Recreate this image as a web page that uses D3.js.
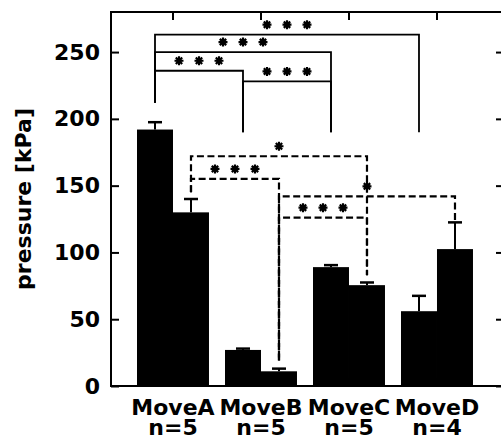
<!DOCTYPE html>
<html lang="en">
<head>
<meta charset="UTF-8">
<title>Pressure per move</title>
<script src="https://d3js.org/d3.v7.min.js"></script>
<style>
  body { margin: 0; background: #fff; }
  svg text { font-family: "DejaVu Sans", sans-serif; font-size: 22px; font-weight: bold; fill: #000; }
</style>
</head>
<body>
<div id="chart"></div>
<script>
const categories = ["MoveA", "MoveB", "MoveC", "MoveD"];
const sampleSizes = ["n=5", "n=5", "n=5", "n=4"];
const firstMeans = [192, 27, 89, 56];
const firstErrors = [5.5, 1, 1.5, 11.5];
const secondMeans = [130, 11, 75.5, 102.5];
const secondErrors = [10, 2, 2, 20];
const yTicks = [0, 50, 100, 150, 200, 250];

// significance brackets between groups (index into categories), heights in kPa
const solidBrackets = [
    { a: 0, b: 3, top: 263, left: 212, right: 190, stars: 3 },
    { a: 0, b: 2, top: 250, left: 212, right: 190, stars: 3 },
    { a: 0, b: 1, top: 236, left: 212, right: 190, stars: 3 },
    { a: 1, b: 2, top: 228, left: 190, right: 190, stars: 3 }
];
const dashedBrackets = [
    { a: 0, b: 2, top: 172, left: 145, right: 83, stars: 1 },
    { a: 0, b: 1, top: 155, left: 145, right: 19, stars: 3 },
    { a: 1, b: 3, top: 142, left: 19, right: 122, stars: 1 },
    { a: 1, b: 2, top: 126, left: 19, right: 83, stars: 3 }
];

const width = 501;
const height = 448;
const margin = { top: 12, right: -3, bottom: 62, left: 111 }; // right spine sits just off the canvas
const pw = width - margin.left - margin.right;
const ph = height - margin.top - margin.bottom;

const svg = d3.select("#chart").append("svg")
    .attr("width", width)
    .attr("height", height)
    .append("g")
    .attr("transform", "translate(" + margin.left + "," + margin.top + ")");

const x = d3.scaleBand()
    .domain(categories)
    .range([0, pw])
    .paddingInner(0.182)
    .paddingOuter(0.324)
    .align(0.456);

const sub = d3.scaleBand()
    .domain([0, 1])
    .range([0, x.bandwidth()]);

const y = d3.scaleLinear()
    .domain([0, 280])
    .range([ph, 0]);

const tickStyle = g => {
    g.select(".domain").remove();
    g.selectAll(".tick line").attr("stroke", "#000").attr("stroke-width", 2);
};

// axes, ticks pointing inward on all four sides
svg.append("g")
    .call(d3.axisLeft(y).tickValues(yTicks).tickSizeInner(-8).tickSizeOuter(0).tickPadding(11))
    .call(tickStyle);

svg.append("g")
    .attr("transform", "translate(" + pw + ",0)")
    .call(d3.axisRight(y).tickValues(yTicks).tickSizeInner(-8).tickSizeOuter(0).tickFormat(""))
    .call(tickStyle);

svg.append("g")
    .call(d3.axisTop(x).tickSizeInner(-8).tickSizeOuter(0).tickFormat(""))
    .call(tickStyle);

svg.append("g")
    .attr("transform", "translate(0," + ph + ")")
    .call(d3.axisBottom(x).tickSizeInner(-8).tickSizeOuter(0).tickPadding(13))
    .call(tickStyle)
    .call(g => g.selectAll(".tick text").text(null).each(function (d, i) {
        const t = d3.select(this);
        t.append("tspan").attr("x", 0).text(d);
        t.append("tspan").attr("x", 0).attr("dy", 20.5).text(sampleSizes[i]);
    }));

// bars
const series = [
    { means: firstMeans, errors: firstErrors },
    { means: secondMeans, errors: secondErrors }
];

series.forEach((s, si) => {
    const rows = categories.map((c, i) => ({ c: c, v: s.means[i], e: s.errors[i] }));
    const cx = d => x(d.c) + sub(si) + sub.bandwidth() / 2;

    svg.append("g").selectAll("rect")
        .data(rows)
        .enter().append("rect")
        .attr("x", d => x(d.c) + sub(si))
        .attr("y", d => y(d.v))
        .attr("width", sub.bandwidth())
        .attr("height", d => ph - y(d.v))
        .attr("fill", "#000");

    const err = svg.append("g").attr("stroke", "#000");
    err.selectAll("line.stem")
        .data(rows)
        .enter().append("line")
        .attr("class", "stem")
        .attr("stroke-width", 2)
        .attr("x1", cx).attr("x2", cx)
        .attr("y1", d => y(d.v)).attr("y2", d => y(d.v + d.e));
    err.selectAll("line.cap")
        .data(rows)
        .enter().append("line")
        .attr("class", "cap")
        .attr("stroke-width", 2.5)
        .attr("x1", d => cx(d) - 7).attr("x2", d => cx(d) + 7)
        .attr("y1", d => y(d.v + d.e)).attr("y2", d => y(d.v + d.e));
});

// frame
svg.append("rect")
    .attr("width", pw)
    .attr("height", ph)
    .attr("fill", "none")
    .attr("stroke", "#000")
    .attr("stroke-width", 2);

// significance brackets
function star(cx, cy) {
    const p = d3.path();
    const r = 4.5;
    for (let k = 0; k < 4; k++) {
        const a = k * Math.PI / 4;
        p.moveTo(cx - r * Math.cos(a), cy - r * Math.sin(a));
        p.lineTo(cx + r * Math.cos(a), cy + r * Math.sin(a));
    }
    return p.toString();
}

function drawBrackets(list, si, dashed) {
    const bx = i => x(categories[i]) + sub(si) + sub.bandwidth() / 2;
    const g = svg.append("g");
    list.forEach(b => {
        const p = d3.path();
        p.moveTo(bx(b.a), y(b.left));
        p.lineTo(bx(b.a), y(b.top));
        p.lineTo(bx(b.b), y(b.top));
        p.lineTo(bx(b.b), y(b.right));
        g.append("path")
            .attr("d", p.toString())
            .attr("fill", "none")
            .attr("stroke", "#000")
            .attr("stroke-width", dashed ? 2.2 : 1.8)
            .attr("stroke-dasharray", dashed ? "7,3.5" : null);

        const mid = (bx(b.a) + bx(b.b)) / 2;
        d3.range(b.stars).forEach(k => {
            const sx = mid + (k - (b.stars - 1) / 2) * 20;
            const sy = y(b.top) - 10;
            g.append("path")
                .attr("d", star(sx, sy))
                .attr("stroke", "#000")
                .attr("stroke-width", 2.2);
            g.append("circle")
                .attr("cx", sx).attr("cy", sy).attr("r", 2.3)
                .attr("fill", "#000");
        });
    });
}

drawBrackets(solidBrackets, 0, false);
drawBrackets(dashedBrackets, 1, true);

// y label
svg.append("text")
    .attr("transform", "translate(" + (31 - margin.left) + "," + (ph / 2) + ") rotate(-90)")
    .attr("text-anchor", "middle")
    .text("pressure [kPa]");
</script>
</body>
</html>
